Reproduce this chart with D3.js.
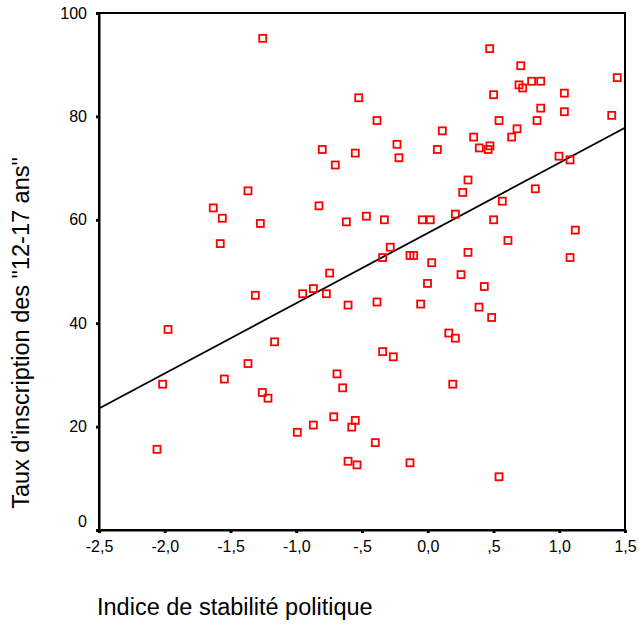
<!DOCTYPE html>
<html>
<head>
<meta charset="utf-8">
<script src="https://cdn.jsdelivr.net/npm/d3@7"></script>
<style>
	body { margin: 0; background: #fff; }
	text { font-family: "Liberation Sans", Arial, sans-serif; fill: #000; }
</style>
</head>
<body>
<svg id="chart" width="639" height="624"></svg>
<script>
// indice de stabilité politique (x) / taux d'inscription 12-17 ans (y)
const stability = [
	-1.255, -0.525, -0.386, 0.111, -0.802, -0.551, -0.234, -0.219, 0.073, -0.703,
	0.471, 0.707, 0.694, 0.722, 0.790, 0.859, 1.441, 0.501, 1.039, 0.859,
	1.039, 1.399, 0.542, 0.831, 0.679, 0.349, 0.638, 0.392, 0.473, 0.460,
	0.998, 1.082, 0.306, -1.367, -1.631, -1.562, -1.273, -1.578, -1.311, -1.975,
	-1.165, -0.827, -0.619, -0.467, -0.330, -0.041, 0.019, -0.285, -0.343, -0.135,
	-0.107, 0.030, -0.746, -0.002, -0.951, -0.870, -0.771, -0.606, -0.386, -0.054,
	0.160, 0.266, 0.818, 0.567, 0.210, 0.501, 0.610, 1.122, 0.306, 1.082,
	0.253, 0.430, 0.390, 0.486, 0.210, -1.367, -1.547, -2.016, -1.258, -1.215,
	-2.059, -0.343, -0.262, -0.690, -0.647, 0.190, -0.715, -0.870, -0.992, -0.551,
	-0.578, -0.399, -0.606, -0.538, -0.135, 0.542
];
const enrolment = [
	95.1, 83.6, 79.2, 77.2, 73.6, 72.9, 74.6, 72.0, 73.6, 70.6,
	93.1, 89.8, 86.1, 85.5, 86.8, 86.8, 87.5, 84.2, 84.5, 81.6,
	80.9, 80.2, 79.2, 79.2, 77.6, 76.0, 76.0, 73.9, 74.3, 73.6,
	72.3, 71.6, 67.7, 65.6, 62.3, 60.3, 59.3, 55.4, 45.4, 38.8,
	36.4, 62.7, 59.6, 60.7, 60.0, 60.0, 60.0, 54.7, 52.7, 53.1,
	53.1, 51.7, 49.7, 47.7, 45.7, 46.7, 45.7, 43.5, 44.1, 43.7,
	38.1, 65.3, 66.0, 63.6, 61.1, 60.0, 56.0, 58.0, 53.7, 52.7,
	49.4, 47.1, 43.1, 41.1, 37.1, 32.2, 29.2, 28.2, 26.6, 25.5,
	15.6, 34.5, 33.5, 30.2, 27.5, 28.2, 21.9, 20.3, 18.9, 21.2,
	19.9, 16.9, 13.3, 12.6, 13.0, 10.3
];
// droite de régression (valeurs aux bords de l'axe x)
const fitX = [-2.5, 1.5],
	fitY = [23.5, 77.8];

const xTicks = [-2.5, -2, -1.5, -1, -0.5, 0, 0.5, 1, 1.5],
	xTickLabels = ["-2,5", "-2,0", "-1,5", "-1,0", "-,5", "0,0", ",5", "1,0", "1,5"],
	yTicks = [0, 20, 40, 60, 80, 100];

const xTitle = "Indice de stabilité politique",
	yTitle = "Taux d'inscription des \"12-17 ans\"";

const plotLeft = 99, plotRight = 625, plotTop = 13, plotBottom = 530;

const xScale = d3.scaleLinear()
	.domain([-2.5, 1.5])
	.range([plotLeft, plotRight]);

const yScale = d3.scaleLinear()
	.domain([0, 100])
	.range([plotBottom, plotTop]);

const chart = d3.select("#chart");

// cadre
chart.append("rect")
	.attr("x", plotLeft)
	.attr("y", plotTop)
	.attr("width", plotRight - plotLeft)
	.attr("height", plotBottom - plotTop)
	.attr("fill", "none")
	.attr("stroke", "#000")
	.attr("stroke-width", 2);

const xAxis = chart.append("g")
	.attr("transform", `translate(0,${plotBottom})`)
	.call(d3.axisBottom(xScale)
		.tickValues(xTicks)
		.tickFormat((d, i) => xTickLabels[i])
		.tickSizeInner(3)
		.tickSizeOuter(0)
		.tickPadding(8));

const yAxis = chart.append("g")
	.attr("transform", `translate(${plotLeft},0)`)
	.call(d3.axisLeft(yScale)
		.tickValues(yTicks)
		.tickSizeInner(3)
		.tickSizeOuter(0)
		.tickPadding(9));

[xAxis, yAxis].forEach(g => {
	g.select(".domain").attr("stroke", "#000").attr("stroke-width", 2);
	g.selectAll(".tick line").attr("stroke", "#000").attr("stroke-width", 3);
	g.selectAll(".tick text")
		.attr("font-size", 16)
		.attr("font-family", "Liberation Sans, Arial, sans-serif");
});

// le "0" est remonté au-dessus de l'axe, comme dans l'original
yAxis.selectAll(".tick text")
	.filter(d => d === 0)
	.attr("y", -9);

// droite
const line = d3.line()
	.x(d => xScale(d.x))
	.y(d => yScale(d.y));

chart.append("path")
	.datum(fitX.map((x, i) => ({x: x, y: fitY[i]})))
	.attr("fill", "none")
	.attr("stroke", "#000")
	.attr("stroke-width", 1.8)
	.attr("d", line);

// points
const points = stability.map((x, i) => ({x: x, y: enrolment[i]}));
const size = 7;

chart.selectAll("rect.pt")
	.data(points)
	.join("rect")
	.attr("class", "pt")
	.attr("x", d => xScale(d.x) - size / 2)
	.attr("y", d => yScale(d.y) - size / 2)
	.attr("width", size)
	.attr("height", size)
	.attr("fill", "none")
	.attr("stroke", "#ff0000")
	.attr("stroke-width", 1.8);

// titres
chart.append("text")
	.attr("x", 97)
	.attr("y", 615)
	.attr("font-size", 23.5)
	.text(xTitle);

chart.append("text")
	.attr("transform", `translate(29,333) rotate(-90)`)
	.attr("text-anchor", "middle")
	.attr("font-size", 23.5)
	.text(yTitle);
</script>
</body>
</html>
